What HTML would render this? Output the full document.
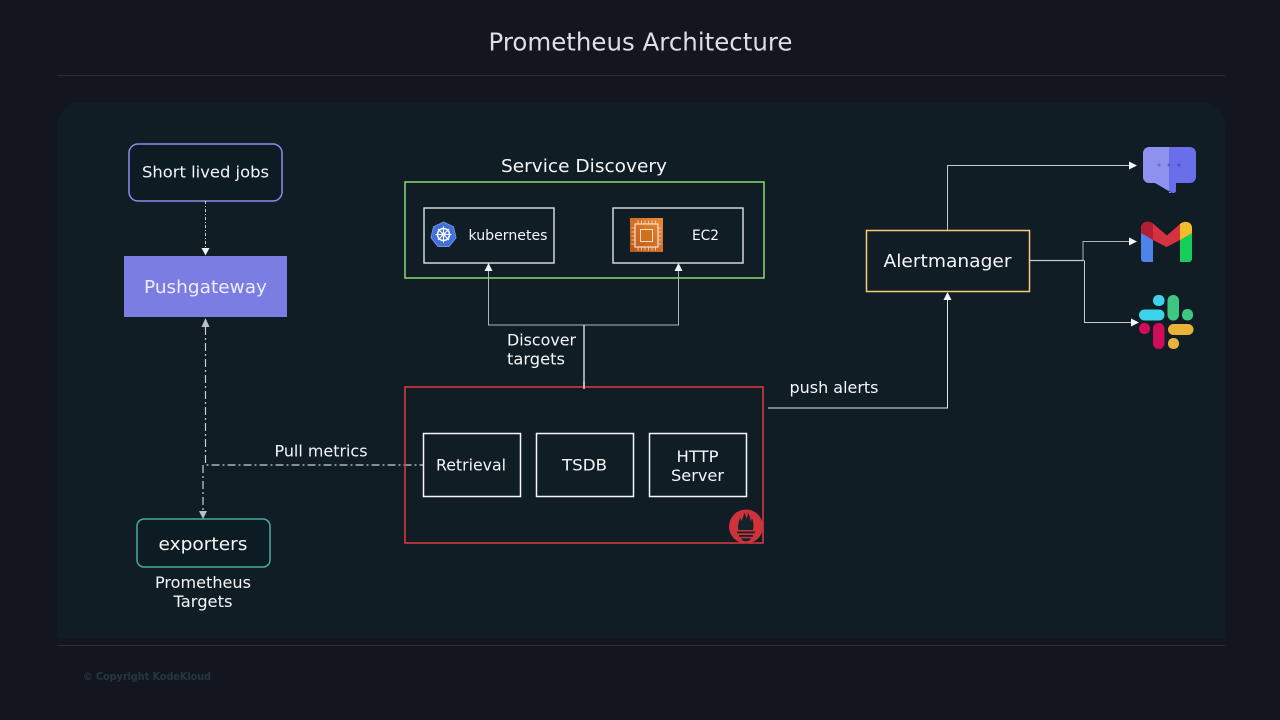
<!DOCTYPE html>
<html><head><meta charset="utf-8"><style>
html,body{margin:0;padding:0;width:1280px;height:720px;overflow:hidden;background:#14161f}
svg{display:block}
text{font-family:"DejaVu Sans",sans-serif;fill:#f4f6f8}
</style></head><body>
<svg width="1280" height="720" viewBox="0 0 1280 720" xmlns="http://www.w3.org/2000/svg">
<defs>
<filter id="b" x="-5%" y="-5%" width="110%" height="110%"><feGaussianBlur stdDeviation="0.3"/></filter>
<linearGradient id="ec" x1="0" y1="1" x2="1" y2="0"><stop offset="0" stop-color="#b9561c"/><stop offset="1" stop-color="#e98a35"/></linearGradient>
</defs>
<rect width="1280" height="720" fill="#14161f"/>
<path d="M57 638V126a24 24 0 0 1 24-24H1201a24 24 0 0 1 24 24V638Z" fill="#101d25"/>
<rect x="57" y="75" width="1168" height="1" fill="#2b2e37"/>
<rect x="57" y="645" width="1168" height="1" fill="#2b2e37"/>
<text x="640.5" y="50.500" text-anchor="middle" font-size="25" textLength="304" lengthAdjust="spacingAndGlyphs" style="fill:#dcdfe5">Prometheus Architecture</text>
<text x="83" y="680" font-size="11" textLength="128" lengthAdjust="spacingAndGlyphs" style="fill:#24383f;font-weight:bold">© Copyright KodeKloud</text>

<g filter="url(#b)">
<!-- left column -->
<rect x="129" y="144" width="153" height="57" rx="9" fill="#101a24" stroke="#8a8dea" stroke-width="1.500"/>
<text x="205.500" y="177.500" text-anchor="middle" font-size="16" textLength="127" lengthAdjust="spacingAndGlyphs">Short lived jobs</text>
<rect x="124" y="256" width="163" height="61" fill="#7b7de3"/>
<text x="205.500" y="293" text-anchor="middle" font-size="18" textLength="123" lengthAdjust="spacingAndGlyphs" style="fill:#eceefb">Pushgateway</text>
<rect x="137" y="519" width="133" height="48" rx="7" fill="#101c24" stroke="#46ab9b" stroke-width="1.500"/>
<text x="203" y="550" text-anchor="middle" font-size="18" textLength="89" lengthAdjust="spacingAndGlyphs">exporters</text>
<text x="203" y="588" text-anchor="middle" font-size="16" textLength="96" lengthAdjust="spacingAndGlyphs">Prometheus</text>
<text x="203" y="607" text-anchor="middle" font-size="16" textLength="59" lengthAdjust="spacingAndGlyphs">Targets</text>

<!-- left connectors -->
<path d="M205.500 201V249" fill="none" stroke="#c9ced2" stroke-width="1" stroke-dasharray="3 2 1 2"/>
<path d="M201.500 248h8l-4 7.500z" fill="#eef0f2"/>
<path d="M205.500 327V465H424" fill="none" stroke="#c9ced2" stroke-width="1.200" stroke-dasharray="8 3 2 3"/>
<path d="M203 465V512" fill="none" stroke="#c9ced2" stroke-width="1.200" stroke-dasharray="8 3 2 3"/>
<path d="M201.500 327h8l-4-9z" fill="#b9bfc4"/>
<path d="M199 511h8l-4 8z" fill="#b9bfc4"/>
<text x="321" y="456.500" text-anchor="middle" font-size="16" textLength="93" lengthAdjust="spacingAndGlyphs">Pull metrics</text>

<!-- service discovery -->
<text x="584" y="172" text-anchor="middle" font-size="18" textLength="166" lengthAdjust="spacingAndGlyphs">Service Discovery</text>
<rect x="405" y="182" width="359" height="96" fill="none" stroke="#8ad874" stroke-width="1.500"/>
<rect x="424" y="208" width="130" height="55" fill="none" stroke="#d2d5d8" stroke-width="1.500"/>
<rect x="613" y="208" width="130" height="55" fill="none" stroke="#d2d5d8" stroke-width="1.500"/>
<text x="508" y="240" text-anchor="middle" font-size="14.500" textLength="79" lengthAdjust="spacingAndGlyphs">kubernetes</text>
<text x="705.500" y="240" text-anchor="middle" font-size="14.500" textLength="27" lengthAdjust="spacingAndGlyphs">EC2</text>
<!-- k8s icon -->
<path d="M443.500 222l10 4.800 2.500 11-7 8.700h-11l-7-8.700 2.500-11z" fill="#3f6fd8" stroke="#6f95e6" stroke-width="1"/>
<circle cx="443.500" cy="234.500" r="6" fill="none" stroke="#fff" stroke-width="1.500"/>
<path d="M443.500 226.500v16M435.500 234.500h16M438 229l11 11M449 229l-11 11" stroke="#fff" stroke-width="1.100"/>
<circle cx="443.500" cy="234.500" r="2" fill="#fff"/>
<!-- ec2 icon -->
<rect x="630" y="218" width="33" height="34" fill="url(#ec)"/>
<rect x="635" y="224" width="23" height="23" fill="none" stroke="#f8dfc8" stroke-width="1.200"/>
<rect x="640.500" y="229.500" width="12" height="12" fill="#d0701f" stroke="#f8dfc8" stroke-width="1"/>
<path d="M638 220.500v3.500M641.500 220.500v3.500M645 220.500v3.500M648.500 220.500v3.500M652 220.500v3.500M655.500 220.500v3.500M638 247v3.500M641.500 247v3.500M645 247v3.500M648.500 247v3.500M652 247v3.500M655.500 247v3.500M631.500 228h3.500M631.500 232h3.500M631.500 236h3.500M631.500 240h3.500M631.500 244h3.500M658 228h3.500M658 232h3.500M658 236h3.500M658 240h3.500M658 244h3.500" stroke="#f8dfc8" stroke-width=".8"/>

<!-- discover connectors -->
<path d="M488.500 270V325H678.500V270" fill="none" stroke="#aeb5b9" stroke-width="1"/>
<path d="M584 325V387" fill="none" stroke="#ccd0d3" stroke-width="1.500"/>

<!-- prometheus box -->
<rect x="405" y="387" width="358" height="156" fill="none" stroke="#e0383f" stroke-width="1.500"/>
<path d="M584 381V389" fill="none" stroke="#ccd0d3" stroke-width="1.500"/>
<path d="M484.500 271h8l-4-8z M674.500 271h8l-4-8z" fill="#f1f3f4"/>
<text x="507" y="345.500" font-size="16" textLength="69" lengthAdjust="spacingAndGlyphs">Discover</text>
<text x="507" y="364.500" font-size="16" textLength="58" lengthAdjust="spacingAndGlyphs">targets</text>
<rect x="423.500" y="433.500" width="97" height="63" fill="none" stroke="#f4f5f6" stroke-width="1.500"/>
<rect x="536.500" y="433.500" width="97" height="63" fill="none" stroke="#f4f5f6" stroke-width="1.500"/>
<rect x="649.500" y="433.500" width="97" height="63" fill="none" stroke="#f4f5f6" stroke-width="1.500"/>
<text x="471" y="470.500" text-anchor="middle" font-size="16" textLength="70" lengthAdjust="spacingAndGlyphs">Retrieval</text>
<text x="584.500" y="470.500" text-anchor="middle" font-size="16" textLength="45" lengthAdjust="spacingAndGlyphs">TSDB</text>
<text x="697.500" y="462" text-anchor="middle" font-size="16" textLength="42" lengthAdjust="spacingAndGlyphs">HTTP</text>
<text x="697.500" y="481" text-anchor="middle" font-size="16" textLength="53" lengthAdjust="spacingAndGlyphs">Server</text>
<!-- prom icon -->
<circle cx="746" cy="526.500" r="17" fill="#cf3338"/>
<path d="M738.500 530c-1.500-4.500.6-7.500 1.300-12 1 1 1.700 2.200 2 3.500.5-3 1.800-6 3-9 .6 2.500 1 4.500 1.700 6 .8-1.500 1.300-3.500 1.500-6 1.500 3 2.400 6 2.700 9 .5-1 1-2 1.400-3.200 1.200 4 2 8 .8 11.700z" fill="#15202a"/>
<rect x="737" y="531.500" width="18" height="1.800" fill="#15202a"/>
<rect x="739" y="535" width="14" height="1.800" fill="#15202a"/>
<path d="M741 538.300h10c-.8 2-2.500 3-5 3s-4.200-1-5-3z" fill="#15202a"/>

<!-- push alerts -->
<path d="M768 408H947.500V299" fill="none" stroke="#e3e6e8" stroke-width="1"/>
<path d="M943.500 300h8l-4-8z" fill="#f1f3f4"/>
<text x="834" y="393" text-anchor="middle" font-size="16" textLength="89" lengthAdjust="spacingAndGlyphs">push alerts</text>

<!-- alertmanager -->
<rect x="866.500" y="230.500" width="163" height="61" fill="none" stroke="#f5cb78" stroke-width="1.500"/>
<text x="947.500" y="267" text-anchor="middle" font-size="18" textLength="128" lengthAdjust="spacingAndGlyphs">Alertmanager</text>
<path d="M947.500 230V165.500H1130" fill="none" stroke="#c6cacd" stroke-width="1"/>
<path d="M1030 260.500H1084" fill="none" stroke="#c6cacd" stroke-width="1.200"/>
<path d="M1083 260.500V241.500H1130" fill="none" stroke="#aeb5b9" stroke-width="1"/>
<path d="M1084.500 260.500V322.500H1132" fill="none" stroke="#c6cacd" stroke-width="1"/>
<path d="M1129 161.500v8l8-4z M1129 237.500v8l8-4z M1131 318.500v8l8-4z" fill="#f6f7f8"/>

<!-- chat icon -->
<path d="M1149 147H1169V193H1172L1155 183H1149a6 6 0 0 1-6-6V153a6 6 0 0 1 6-6z" fill="#8f91ee"/>
<path d="M1169 147H1190a6 6 0 0 1 6 6V177a6 6 0 0 1-6 6H1176V190a2.500 2.500 0 0 1-4 2.500L1169 190.500Z" fill="#6b6eea"/>
<circle cx="1159" cy="165" r="1.500" fill="#6a6cd6"/><circle cx="1169" cy="165" r="1.500" fill="#5557cc"/><circle cx="1179" cy="165" r="1.500" fill="#4c4ec6"/>

<!-- gmail icon -->
<path d="M1141 231V259a3 3 0 0 0 3 3H1153V231Z" fill="#4f83ea"/>
<path d="M1180 231V262H1189a3 3 0 0 0 3-3V231Z" fill="#17cf57"/>
<path d="M1141 228c0-6 7-8 12-4.500L1167 235.500 1180 224c5-4 12-2 12 4v5l-25.500 14L1141 233Z" fill="#d5323f"/>
<path d="M1167 236L1180 224v16L1166.500 247 1153 240V224Z" fill="#d5323f"/>
<path d="M1141 228c0-6 7-8 12-4.500V240L1141 233Z" fill="#b51f35"/>
<path d="M1180 224c5-4 12-2 12 4v5l-12 7Z" fill="#f4bb2a"/>

<!-- slack icon -->
<g>
<rect x="1139" y="309.500" width="25.500" height="11" rx="5.500" fill="#3dd3ea"/>
<rect x="1153" y="295" width="11.500" height="11" rx="5" fill="#3dd3ea"/>
<rect x="1167.500" y="295" width="11.500" height="25.500" rx="5.700" fill="#3ec781"/>
<rect x="1182" y="309" width="11" height="11.500" rx="5" fill="#3ec781"/>
<rect x="1168" y="324" width="25.500" height="11" rx="5.500" fill="#e8b23a"/>
<rect x="1168" y="338" width="11" height="11" rx="5" fill="#e8b23a"/>
<rect x="1153" y="323" width="11.500" height="26" rx="5.700" fill="#cf0f58"/>
<rect x="1139" y="323" width="11" height="11" rx="5" fill="#cf0f58"/>
</g>
</g>
</svg>
</body></html>
